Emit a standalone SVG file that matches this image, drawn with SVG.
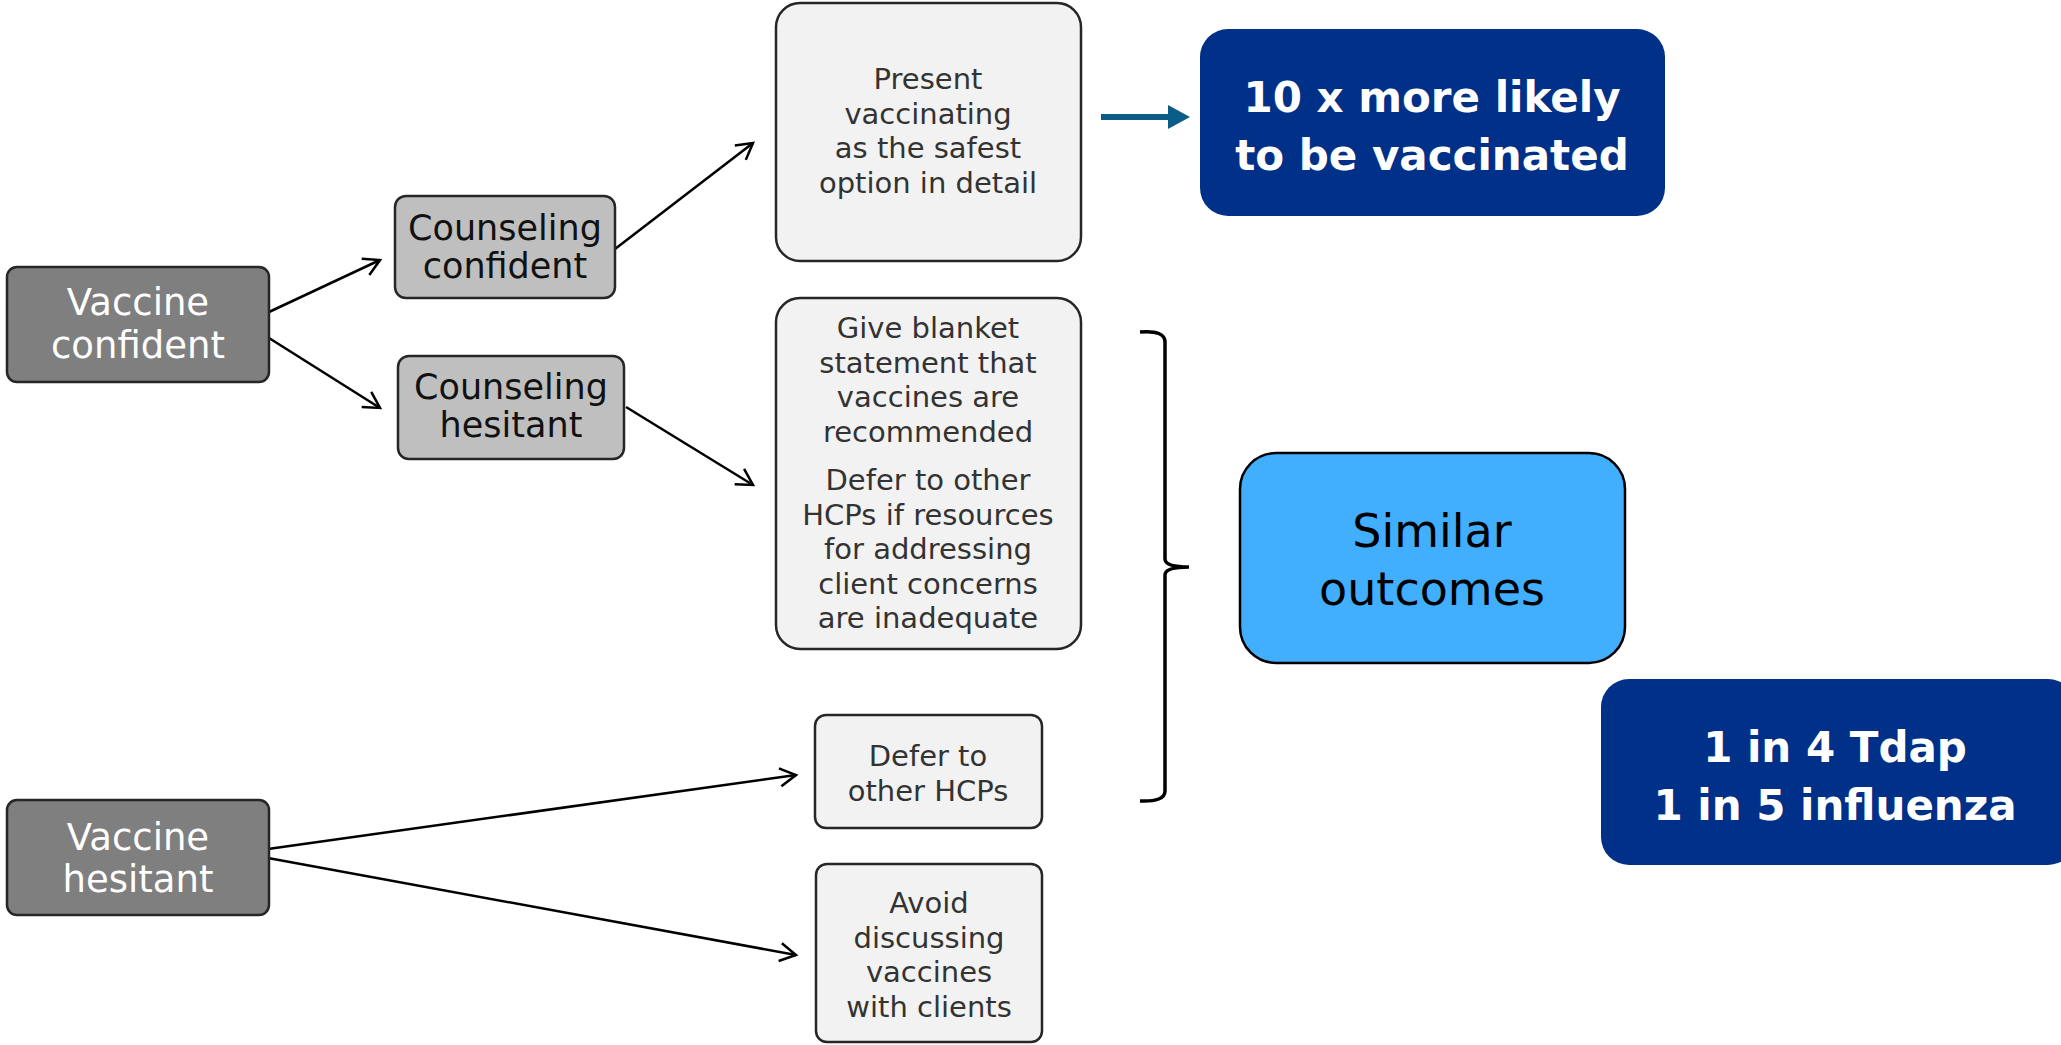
<svg xmlns="http://www.w3.org/2000/svg" width="2061" height="1045" viewBox="0 0 2061 1045">
<style>
.t{font-family:"DejaVu Sans","Liberation Sans",sans-serif;text-anchor:middle}
.dk{fill:#7f7f7f;stroke:#262626;stroke-width:2.5}
.md{fill:#bfbfbf;stroke:#262626;stroke-width:2.5}
.lt{fill:#f2f2f2;stroke:#262626;stroke-width:2.5}
.nv{fill:#003087}
.sk{fill:#42aefe;stroke:#000;stroke-width:2.5}
.wt{fill:#fff;font-size:37px}
.bk{fill:#111;font-size:35px}
.gr{fill:#333;font-size:29px}
.bw{fill:#fff;font-size:42px;font-weight:bold}
.con{stroke:#000;stroke-width:2.5;fill:none;marker-end:url(#ah)}
</style>
<defs>
<marker id="ah" markerUnits="userSpaceOnUse" markerWidth="24" markerHeight="24" viewBox="0 0 24 24" refX="21" refY="12" orient="auto">
<path d="M5,3 L21,12 L5,21" fill="none" stroke="#000" stroke-width="2.5"/>
</marker>
</defs>
<rect width="2061" height="1045" fill="#fff"/>
<g id="connectors">
<line class="con" x1="269" y1="312" x2="380" y2="260"/>
<line class="con" x1="269" y1="338" x2="380" y2="408"/>
<line class="con" x1="615" y1="249" x2="753" y2="143"/>
<line class="con" x1="626" y1="407" x2="753" y2="485"/>
<line class="con" x1="268" y1="849" x2="796" y2="775"/>
<line class="con" x1="268" y1="858" x2="796" y2="955"/>
<line x1="1101" y1="117" x2="1172" y2="117" stroke="#0b5c86" stroke-width="6"/>
<polygon points="1168,105 1190,117 1168,129" fill="#0b5c86"/>
<path d="M1140,332 Q1165,330 1165,342 L1165,559 Q1165,567 1189,567 Q1165,567 1165,575 L1165,791 Q1165,802 1140,801" fill="none" stroke="#000" stroke-width="3.5"/>
</g>
<g id="vaccine-confident">
<rect class="dk" x="7" y="267" width="262" height="115" rx="10"/>
<text class="t wt" x="138" y="315">Vaccine</text>
<text class="t wt" x="138" y="358">confident</text>
</g>
<g id="counseling-confident">
<rect class="md" x="395" y="196" width="220" height="102" rx="11"/>
<text class="t bk" x="505" y="240">Counseling</text>
<text class="t bk" x="505" y="278">confident</text>
</g>
<g id="counseling-hesitant">
<rect class="md" x="398" y="356" width="226" height="103" rx="11"/>
<text class="t bk" x="511" y="399">Counseling</text>
<text class="t bk" x="511" y="437">hesitant</text>
</g>
<g id="present">
<rect class="lt" x="776" y="3" width="305" height="258" rx="24"/>
<text class="t gr" x="928" y="89">Present</text>
<text class="t gr" x="928" y="123.5">vaccinating</text>
<text class="t gr" x="928" y="158">as the safest</text>
<text class="t gr" x="928" y="192.5">option in detail</text>
</g>
<g id="blanket">
<rect class="lt" x="776" y="298" width="305" height="351" rx="24"/>
<text class="t gr" x="928" y="338">Give blanket</text>
<text class="t gr" x="928" y="372.5">statement that</text>
<text class="t gr" x="928" y="407">vaccines are</text>
<text class="t gr" x="928" y="441.5">recommended</text>
<text class="t gr" x="928" y="490">Defer to other</text>
<text class="t gr" x="928" y="524.5">HCPs if resources</text>
<text class="t gr" x="928" y="559">for addressing</text>
<text class="t gr" x="928" y="593.5">client concerns</text>
<text class="t gr" x="928" y="628">are inadequate</text>
</g>
<g id="defer">
<rect class="lt" x="815" y="715" width="227" height="113" rx="11"/>
<text class="t gr" x="928" y="766">Defer to</text>
<text class="t gr" x="928" y="801">other HCPs</text>
</g>
<g id="avoid">
<rect class="lt" x="816" y="864" width="226" height="178" rx="11"/>
<text class="t gr" x="929" y="913">Avoid</text>
<text class="t gr" x="929" y="947.5">discussing</text>
<text class="t gr" x="929" y="982">vaccines</text>
<text class="t gr" x="929" y="1016.5">with clients</text>
</g>
<g id="vaccine-hesitant">
<rect class="dk" x="7" y="800" width="262" height="115" rx="10"/>
<text class="t wt" x="138" y="850">Vaccine</text>
<text class="t wt" x="138" y="892">hesitant</text>
</g>
<g id="ten-times">
<rect class="nv" x="1200" y="29" width="465" height="187" rx="28"/>
<text class="t bw" x="1432" y="112">10 x more likely</text>
<text class="t bw" x="1432" y="170">to be vaccinated</text>
</g>
<g id="similar">
<rect class="sk" x="1240" y="453" width="385" height="210" rx="36"/>
<text class="t" x="1432" y="547" font-size="46" fill="#000">Similar</text>
<text class="t" x="1432" y="605" font-size="46" fill="#000">outcomes</text>
</g>
<g id="rates">
<rect class="nv" x="1601" y="679" width="475" height="186" rx="28"/>
<text class="t bw" x="1835" y="762" font-size="40">1 in 4 Tdap</text>
<text class="t bw" x="1835" y="820" font-size="40">1 in 5 influenza</text>
</g>
</svg>
